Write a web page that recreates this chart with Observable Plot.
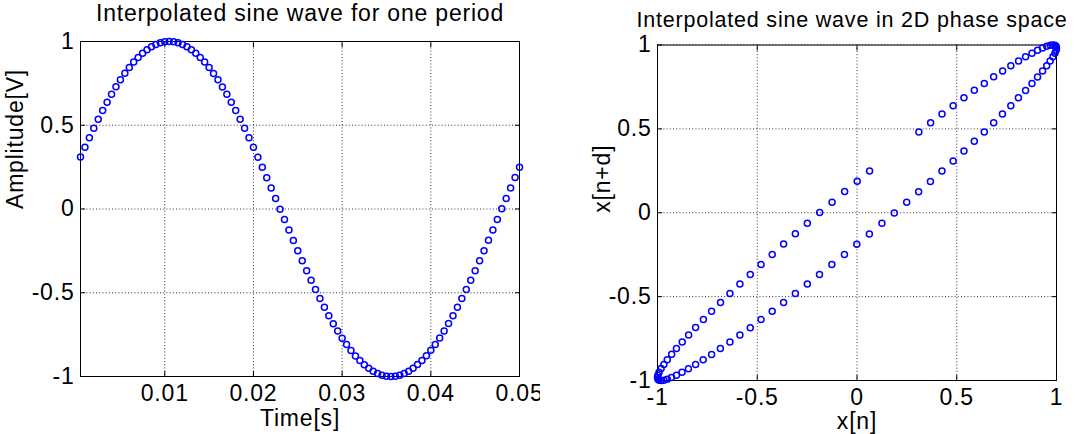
<!DOCTYPE html>
<html>
<head>
<meta charset="utf-8">
<script src="https://cdn.jsdelivr.net/npm/d3@7"></script>
<script src="https://cdn.jsdelivr.net/npm/@observablehq/plot@0.6"></script>
<style>
  html, body { margin: 0; padding: 0; background: #fff; }
  #wrap { position: relative; width: 1075px; height: 434px; overflow: hidden; background: #fff; }
  #left, #right { position: absolute; top: 0; }
  #left { left: 0; }
  #right { left: 540px; }
</style>
</head>
<body>
<div id="wrap"><div id="left"></div><div id="right"></div></div>
<script>
// ---- data ----
const titleLeft = "Interpolated sine wave for one period";
const titleRight = "Interpolated sine wave in 2D phase space";
const xLabelLeft = "Time[s]";
const yLabelLeft = "Amplitude[V]";
const xLabelRight = "x[n]";
const yLabelRight = "x[n+d]";

const time = [
  0.0005,0.0010,0.0015,0.0020,0.0025,0.0030,0.0035,0.0040,0.0045,0.0050,
  0.0055,0.0060,0.0065,0.0070,0.0075,0.0080,0.0085,0.0090,0.0095,0.0100,
  0.0105,0.0110,0.0115,0.0120,0.0125,0.0130,0.0135,0.0140,0.0145,0.0150,
  0.0155,0.0160,0.0165,0.0170,0.0175,0.0180,0.0185,0.0190,0.0195,0.0200,
  0.0205,0.0210,0.0215,0.0220,0.0225,0.0230,0.0235,0.0240,0.0245,0.0250,
  0.0255,0.0260,0.0265,0.0270,0.0275,0.0280,0.0285,0.0290,0.0295,0.0300,
  0.0305,0.0310,0.0315,0.0320,0.0325,0.0330,0.0335,0.0340,0.0345,0.0350,
  0.0355,0.0360,0.0365,0.0370,0.0375,0.0380,0.0385,0.0390,0.0395,0.0400,
  0.0405,0.0410,0.0415,0.0420,0.0425,0.0430,0.0435,0.0440,0.0445,0.0450,
  0.0455,0.0460,0.0465,0.0470,0.0475,0.0480,0.0485,0.0490,0.0495,0.0500
];
const amplitude = [
  0.310,0.369,0.426,0.482,0.536,0.588,0.638,0.685,0.730,0.771,
  0.810,0.845,0.877,0.905,0.930,0.951,0.969,0.982,0.992,0.998,
  1.000,0.998,0.992,0.982,0.968,0.951,0.930,0.905,0.877,0.845,
  0.809,0.771,0.729,0.685,0.638,0.588,0.536,0.482,0.426,0.368,
  0.309,0.249,0.187,0.125,0.062,-0.001,-0.063,-0.126,-0.188,-0.249,
  -0.309,-0.368,-0.425,-0.481,-0.535,-0.587,-0.637,-0.685,-0.729,-0.771,
  -0.809,-0.845,-0.877,-0.905,-0.930,-0.951,-0.968,-0.982,-0.992,-0.998,
  -1.000,-0.998,-0.992,-0.982,-0.968,-0.951,-0.929,-0.905,-0.876,-0.844,
  -0.809,-0.770,-0.729,-0.684,-0.637,-0.587,-0.535,-0.481,-0.425,-0.368,
  -0.309,-0.249,-0.187,-0.125,-0.062,0.001,0.063,0.126,0.188,0.249
];
const delay = 3; // d in x[n+d]

const xTicksLeft = [0.01, 0.02, 0.03, 0.04, 0.05];
const yTicks = [-1, -0.5, 0, 0.5, 1];
const xTicksRight = [-1, -0.5, 0, 0.5, 1];

// ---- tables built from the arrays ----
const waveData = time.map((t, i) => ({t, a: amplitude[i]}));
const phaseData = amplitude.slice(0, amplitude.length - delay)
  .map((v, i) => ({xn: v, xnd: amplitude[i + delay]}));

const fmt = d => String(d);
const FONT = "'Liberation Sans', Arial, Helvetica, sans-serif";
const baseStyle = {fontFamily: FONT, fontSize: "23px", letterSpacing: "0.8px", color: "#000", background: "#fff", overflow: "visible"};
const gridStyle = {stroke: "#000", strokeOpacity: 0.8, strokeDasharray: "1,2.2", strokeWidth: 1};
const dotStyle = {r: 3, stroke: "#0000ff", strokeWidth: 1.5, fill: "none"};

function axesMarks(xt, yt) {
  const blank = () => "";
  return [
    Plot.gridX(xt, gridStyle),
    Plot.gridY(yt, gridStyle),
    // tick labels
    Plot.axisX(xt, {anchor: "bottom", label: null, tickSize: 0, tickPadding: 8, tickFormat: fmt, fontSize: 23}),
    Plot.axisY(yt, {anchor: "left", label: null, tickSize: 0, tickPadding: 6, tickFormat: fmt, fontSize: 23}),
    // inward ticks on all four sides
    Plot.axisX(xt, {anchor: "bottom", label: null, tickSize: 5, dy: -5, tickFormat: blank, stroke: "#000"}),
    Plot.axisX(xt, {anchor: "top", label: null, tickSize: 5, dy: 5, tickFormat: blank, stroke: "#000"}),
    Plot.axisY(yt, {anchor: "left", label: null, tickSize: 5, dx: 5, tickFormat: blank, stroke: "#000"}),
    Plot.axisY(yt, {anchor: "right", label: null, tickSize: 5, dx: -5, tickFormat: blank, stroke: "#000"}),
    Plot.frame({stroke: "#000", strokeWidth: 1})
  ];
}

const left = Plot.plot({
  width: 540, height: 434,
  marginLeft: 80, marginRight: 21, marginTop: 41, marginBottom: 58,
  style: baseStyle,
  x: {domain: [time[0], time[time.length - 1]]},
  y: {domain: [-1, 1]},
  marks: [
    ...axesMarks(xTicksLeft, yTicks),
    Plot.dot(waveData, {x: "t", y: "a", ...dotStyle}),
    Plot.text([titleLeft], {text: d => d, frameAnchor: "top", lineAnchor: "middle", dy: -28, fontSize: 23}),
    Plot.text([xLabelLeft], {text: d => d, frameAnchor: "bottom", lineAnchor: "middle", dy: 42, fontSize: 23}),
    Plot.text([yLabelLeft], {text: d => d, frameAnchor: "left", lineAnchor: "middle", dx: -65, rotate: -90, fontSize: 23})
  ]
});

const right = Plot.plot({
  width: 535, height: 434,
  marginLeft: 117, marginRight: 19, marginTop: 44.5, marginBottom: 54,
  style: baseStyle,
  x: {domain: [-1, 1]},
  y: {domain: [-1, 1]},
  marks: [
    ...axesMarks(xTicksRight, yTicks),
    Plot.dot(phaseData, {x: "xn", y: "xnd", ...dotStyle}),
    Plot.text([titleRight], {text: d => d, frameAnchor: "top", lineAnchor: "middle", dx: -5, dy: -25, fontSize: 21.5}),
    Plot.text([xLabelRight], {text: d => d, frameAnchor: "bottom", lineAnchor: "middle", dy: 41, fontSize: 23}),
    Plot.text([yLabelRight], {text: d => d, frameAnchor: "left", lineAnchor: "middle", dx: -55, rotate: -90, fontSize: 23})
  ]
});

document.getElementById("left").appendChild(left);
document.getElementById("right").appendChild(right);
</script>
</body>
</html>
